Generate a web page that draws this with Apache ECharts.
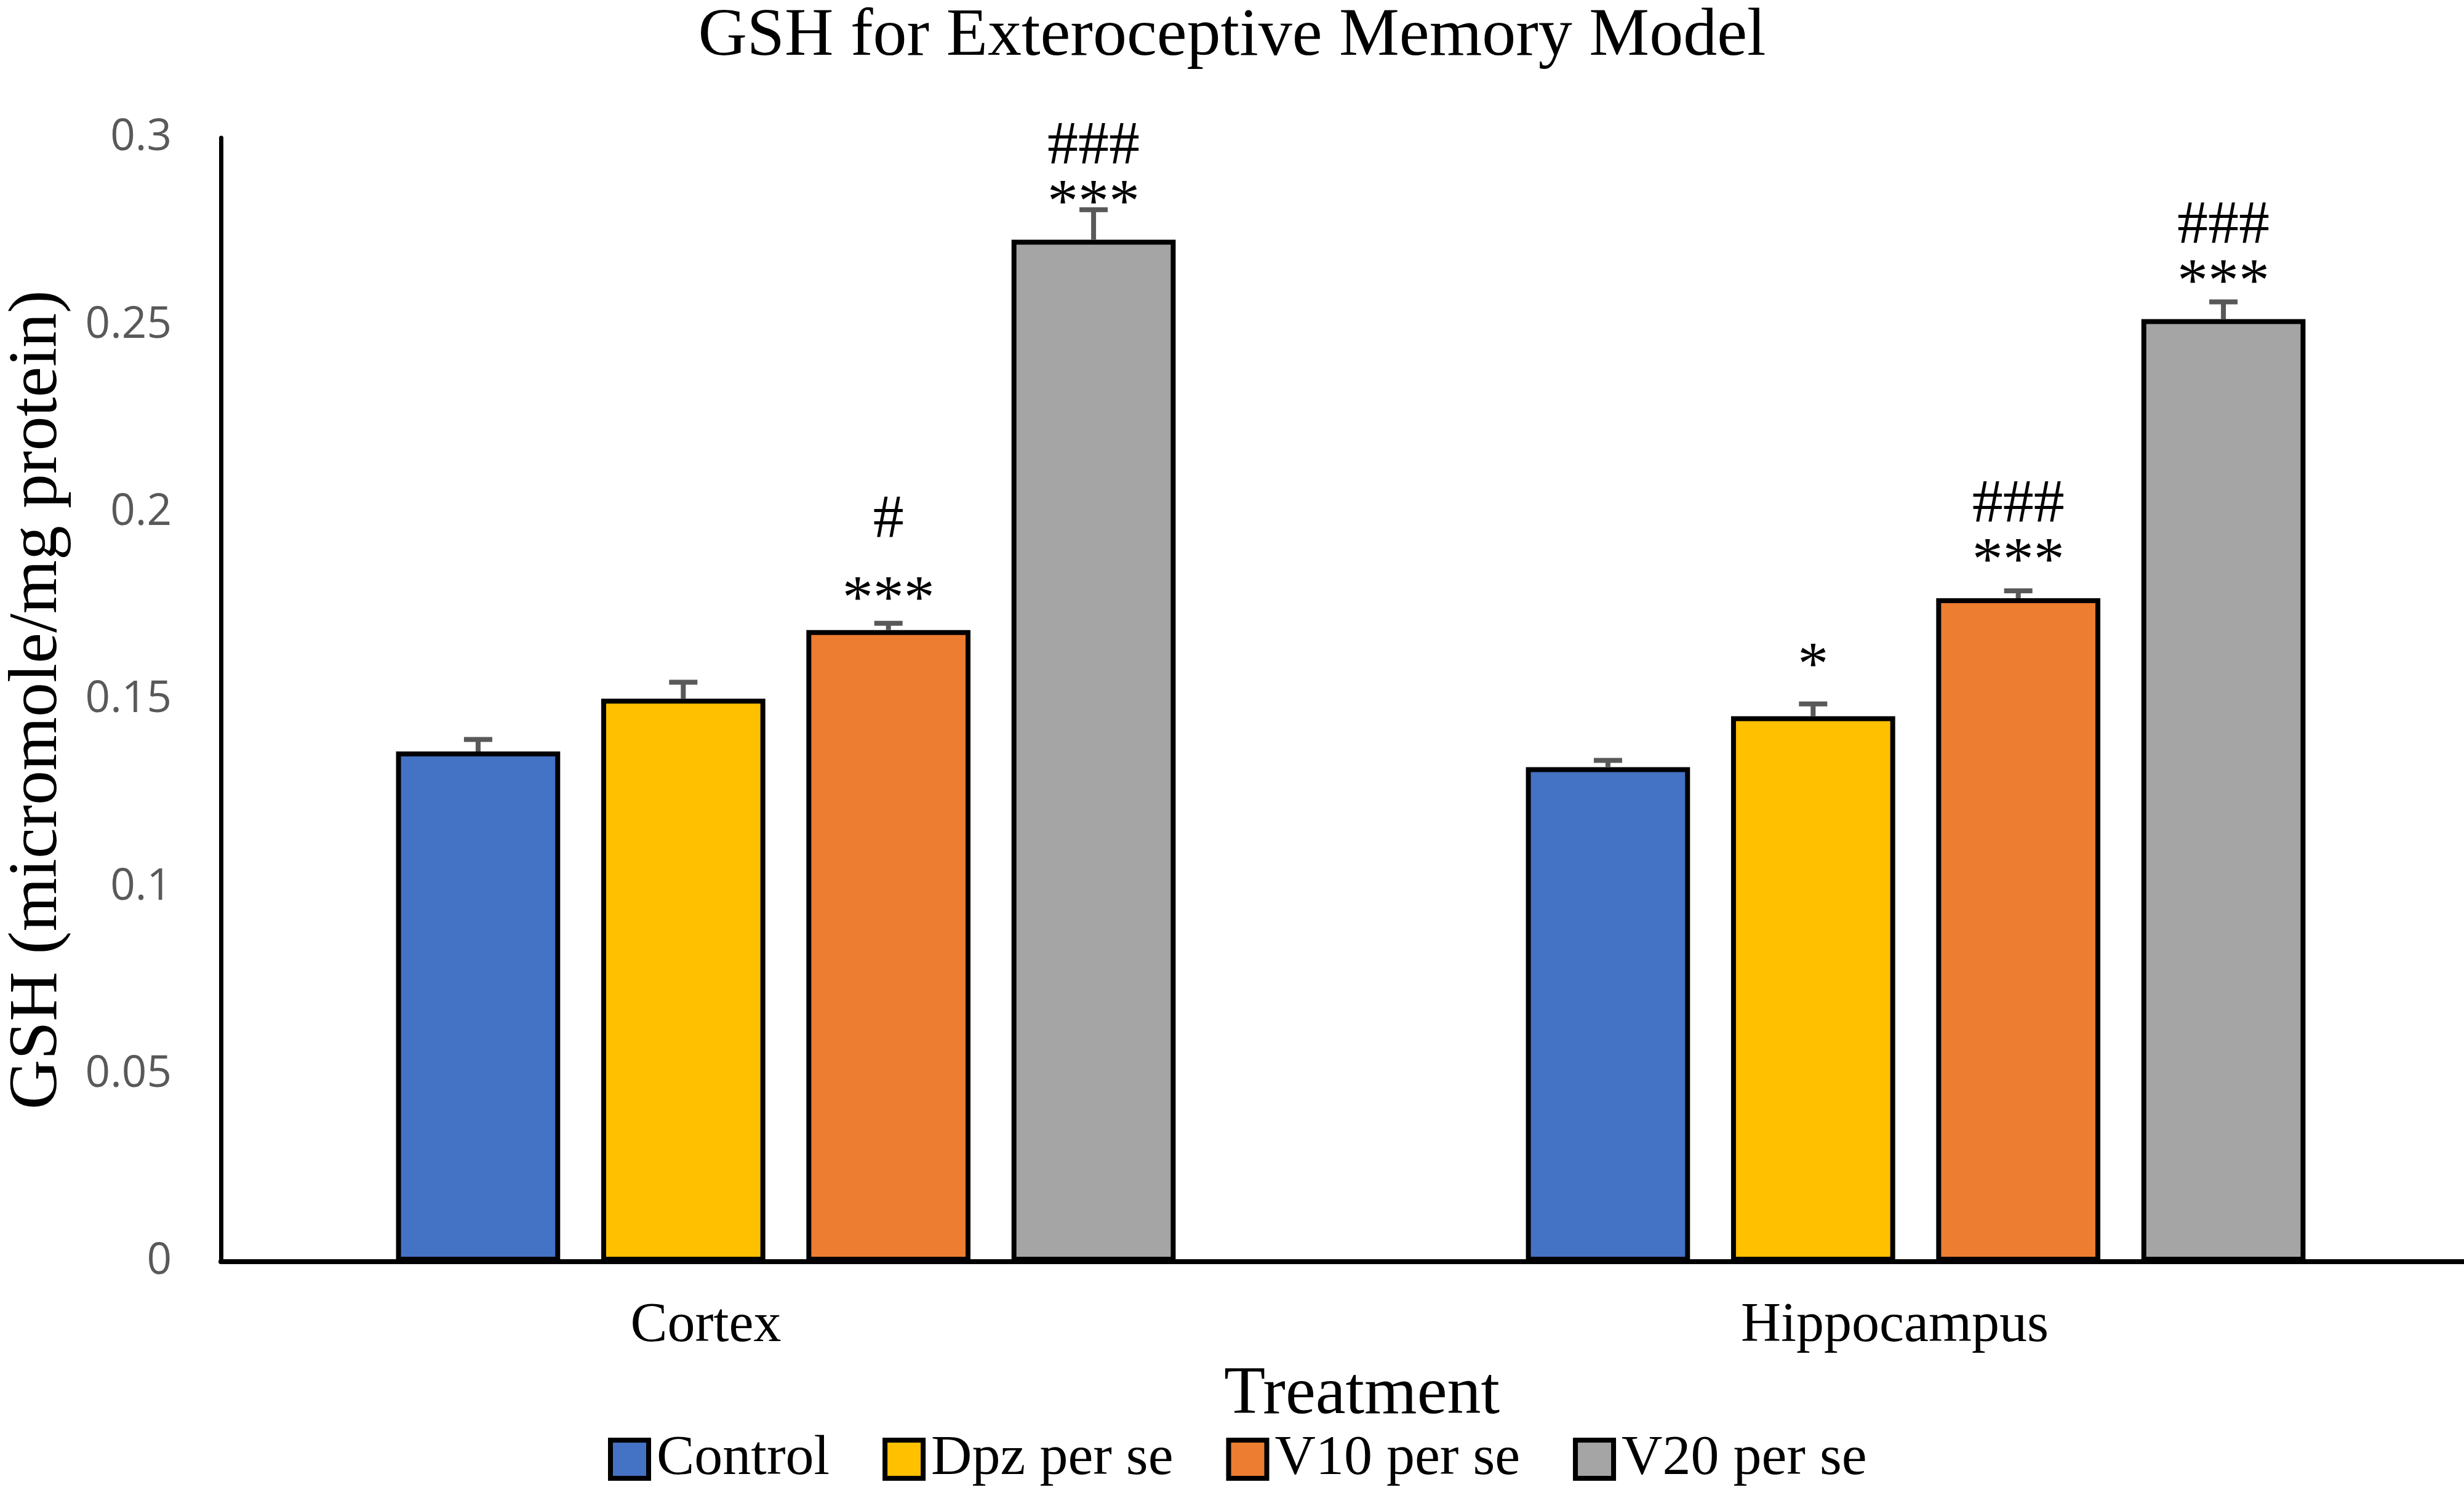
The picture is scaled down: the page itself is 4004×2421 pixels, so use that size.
<!DOCTYPE html>
<html>
<head>
<meta charset="utf-8">
<script src="https://cdn.jsdelivr.net/npm/echarts@6/dist/echarts.min.js"></script>
<style>html,body{margin:0;padding:0;background:#fff;overflow:hidden}#c{width:4004px;height:2421px}</style>
</head>
<body>
<div id="c"></div>
<script>
const categories = ['Cortex', 'Hippocampus'];
const seriesNames = ['Control', 'Dpz per se', 'V10 per se', 'V20 per se'];
const controlValues = [0.1362, 0.1320];
const dpzValues = [0.1503, 0.1456];
const v10Values = [0.1686, 0.1771];
const v20Values = [0.2728, 0.2516];
const controlErr = [0.0032, 0.0018];
const dpzErr = [0.0044, 0.0033];
const v10Err = [0.0018, 0.0020];
const v20Err = [0.0080, 0.0046];
const controlStars = ['', ''];
const dpzStars = ['', '*'];
const v10Stars = ['***', '***'];
const v20Stars = ['***', '***'];
const controlHash = ['', ''];
const dpzHash = ['', ''];
const v10Hash = ['#', '###'];
const v20Hash = ['###', '###'];
const yTicks = [0, 0.05, 0.1, 0.15, 0.2, 0.25, 0.3];

const colors = ['#4472C4', '#FFC000', '#ED7D31', '#A5A5A5'];
const values = [controlValues, dpzValues, v10Values, v20Values];
const errs = [controlErr, dpzErr, v10Err, v20Err];
const stars = [controlStars, dpzStars, v10Stars, v20Stars];
const hashes = [controlHash, dpzHash, v10Hash, v20Hash];

// label styling tweaks (extra spacing) keyed by "series-category"
const hashLineHeight = {'2-0': 168};
const labelLift = {'1-1': 22, '2-0': -10};

const SERIF = '"Liberation Serif", "DejaVu Serif", serif';
const CAT_GAP = 0.31, BAR_GAP = 0.25;

const chart = echarts.init(document.getElementById('c'), null, {renderer: 'canvas'});

const barSeries = seriesNames.map((name, si) => ({
  name: name,
  type: 'bar',
  barGap: (BAR_GAP * 100) + '%',
  barCategoryGap: (CAT_GAP * 100) + '%',
  itemStyle: {color: colors[si], borderColor: '#000', borderWidth: 8},
  data: values[si].map((v, ci) => ({
    value: v,
    label: {distance: 10 + (labelLift[si + '-' + ci] || 0)}
  })),
  label: {
    show: true,
    position: 'top',
    fontFamily: SERIF,
    fontSize: 100,
    color: '#000',
    lineHeight: 94,
    formatter: p => {
      const key = si + '-' + p.dataIndex;
      const h = hashes[si][p.dataIndex], s = stars[si][p.dataIndex];
      if (!h && !s) return '';
      if (!h) return '{s|' + s + '}';
      return '{' + (hashLineHeight[key] ? 'hb' : 'h') + '|' + h + '}\n{s|' + s + '}';
    },
    rich: {
      h: {fontFamily: SERIF, fontSize: 100, color: '#000', lineHeight: 94},
      hb: {fontFamily: SERIF, fontSize: 100, color: '#000', lineHeight: 168},
      s: {fontFamily: SERIF, fontSize: 100, color: '#000', lineHeight: 94}
    }
  },
  z: 2
}));

const errData = [];
seriesNames.forEach((n, si) => {
  categories.forEach((c, ci) => {
    errData.push([ci, values[si][ci], errs[si][ci], si]);
  });
});

const errSeries = {
  type: 'custom',
  name: 'err',
  data: errData,
  z: 5,
  silent: true,
  encode: {x: 0, y: 1},
  renderItem: (params, api) => {
    const ci = api.value(0), v = api.value(1), e = api.value(2), si = api.value(3);
    const band = api.size([1, 0])[0];
    const bw = band * (1 - CAT_GAP) / (4 + 3 * BAR_GAP);
    const step = bw * (1 + BAR_GAP);
    const base = api.coord([ci, v]);
    const top = api.coord([ci, v + e]);
    const x = base[0] + (si - 1.5) * step;
    const style = {stroke: '#595959', lineWidth: 8};
    return {
      type: 'group',
      children: [
        {type: 'line', shape: {x1: x, y1: base[1], x2: x, y2: top[1]}, style: style},
        {type: 'line', shape: {x1: x - 23, y1: top[1], x2: x + 23, y2: top[1]}, style: style}
      ]
    };
  }
};

const catPad = {Cortex: [0, 260, 0, 0], Hippocampus: [0, 68, 0, 0]};

chart.setOption({
  animation: false,
  backgroundColor: '#fff',
  title: {
    text: 'GSH for Exteroceptive Memory Model',
    left: 'center',
    top: 0,
    textStyle: {fontFamily: SERIF, fontSize: 110, fontWeight: 'normal', color: '#000'}
  },
  legend: {
    data: seriesNames,
    left: 983,
    top: 2320,
    icon: 'rect',
    itemWidth: 62,
    itemHeight: 62,
    itemGap: 86,
    itemStyle: {borderColor: '#000', borderWidth: 8},
    textStyle: {fontFamily: SERIF, fontSize: 92, color: '#000', padding: [0, 0, 0, 8]}
  },
  grid: {left: 359, right: -27, top: 224, bottom: 371, containLabel: false, outerBoundsMode: 'none'},
  xAxis: {
    type: 'category',
    data: categories,
    name: 'Treatment',
    nameLocation: 'middle',
    nameGap: 162,
    nameMoveOverlap: false,
    nameTextStyle: {fontFamily: SERIF, fontSize: 110, color: '#000', padding: [0, 0, 0, 36]},
    axisLine: {lineStyle: {color: '#000', width: 8}},
    axisTick: {show: false},
    axisLabel: {
      margin: 60,
      fontFamily: SERIF,
      fontSize: 90,
      color: '#000',
      formatter: v => '{' + (v === 'Cortex' ? 'a' : 'b') + '|' + v + '}',
      rich: {
        a: {fontFamily: SERIF, fontSize: 90, color: '#000', padding: catPad.Cortex},
        b: {fontFamily: SERIF, fontSize: 90, color: '#000', padding: catPad.Hippocampus}
      }
    }
  },
  yAxis: {
    type: 'value',
    min: yTicks[0],
    max: yTicks[yTicks.length - 1],
    interval: yTicks[1] - yTicks[0],
    name: 'GSH (micromole/mg protein)',
    nameLocation: 'middle',
    nameGap: 241,
    nameMoveOverlap: false,
    nameTextStyle: {fontFamily: SERIF, fontSize: 112, color: '#000'},
    axisLine: {show: true, lineStyle: {color: '#000', width: 7}},
    axisTick: {show: false},
    splitLine: {show: false},
    axisLabel: {
      margin: 80,
      fontFamily: '"Open Sans", sans-serif',
      fontSize: 71,
      color: '#595959',
      formatter: v => String(v)
    }
  },
  series: [...barSeries, errSeries]
});
</script>
</body>
</html>
